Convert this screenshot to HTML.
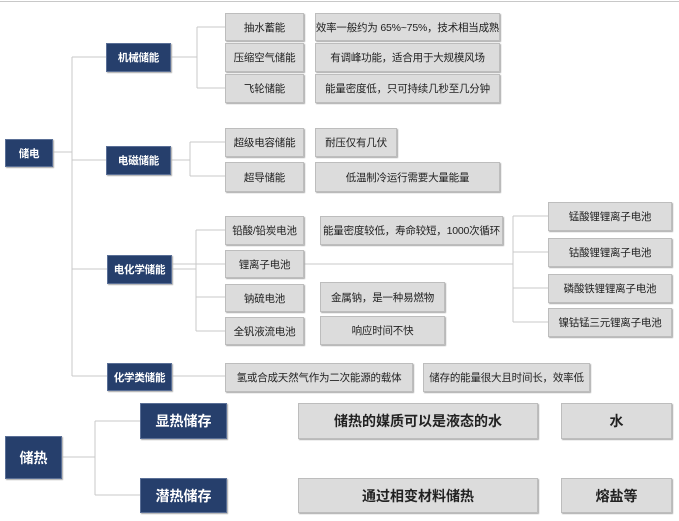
<!DOCTYPE html><html><head><meta charset="utf-8"><style>
body{margin:0;width:679px;height:521px;background:#fff;position:relative;overflow:hidden;font-family:"Liberation Sans","Noto Sans CJK SC",sans-serif}
.b{position:absolute;display:flex;align-items:center;justify-content:center;box-sizing:border-box;font-size:10.5px;color:#222;background:#dcdcdc;border:1px solid #bdbdbd;box-shadow:1px 1px 1px #aaa;white-space:nowrap;letter-spacing:-0.2px}
.n{background:#263f6c;color:#fff;border:1px solid #5a6f96;font-weight:bold}
.L{font-size:14px;font-weight:bold;letter-spacing:0}
svg{position:absolute;left:0;top:0}
</style></head><body>
<svg width="679" height="521"><g stroke="#c8c8c8" stroke-width="1" fill="none">
<line x1="0" y1="1.5" x2="679" y2="1.5"/>
<path d="M53 152H72M72 57V376M72 57H106M72 160H106M72 269H107M72 376H107"/>
<path d="M171 57H197M197 27V88M197 27H225M197 88H225"/>
<path d="M171 160H190M190 142V176M190 142H225M190 176H225"/>
<path d="M172 269H196M196 230V331M196 230H225M196 331H225M196 297H225M172 264H225"/>
<path d="M304 264H513M513 216V322M513 216H548M513 252H548M513 288H548M513 322H548"/>
<path d="M172 376H225"/>
<path d="M62 457H95M95 421V495M95 421H140M95 495H140"/>
</g></svg>
<div class="b n" style="left:5px;top:139px;width:48px;height:28px">储电</div>
<div class="b n" style="left:106px;top:43px;width:65px;height:29px">机械储能</div>
<div class="b n" style="left:106px;top:146px;width:65px;height:29px">电磁储能</div>
<div class="b n" style="left:107px;top:255px;width:65px;height:29px">电化学储能</div>
<div class="b n" style="left:107px;top:363px;width:65px;height:28px">化学类储能</div>
<div class="b" style="left:225px;top:13px;width:79px;height:28px">抽水蓄能</div>
<div class="b" style="left:225px;top:43px;width:79px;height:29px">压缩空气储能</div>
<div class="b" style="left:225px;top:74px;width:79px;height:29px">飞轮储能</div>
<div class="b" style="left:225px;top:128px;width:79px;height:29px">超级电容储能</div>
<div class="b" style="left:225px;top:162px;width:79px;height:30px">超导储能</div>
<div class="b" style="left:225px;top:216px;width:79px;height:29px">铅酸/铅炭电池</div>
<div class="b" style="left:225px;top:250px;width:79px;height:28px">锂离子电池</div>
<div class="b" style="left:225px;top:284px;width:79px;height:28px">钠硫电池</div>
<div class="b" style="left:225px;top:317px;width:79px;height:28px">全钒液流电池</div>
<div class="b" style="left:315px;top:13px;width:185px;height:28px">效率一般约为 65%~75%，技术相当成熟</div>
<div class="b" style="left:315px;top:43px;width:185px;height:29px">有调峰功能，适合用于大规模风场</div>
<div class="b" style="left:315px;top:74px;width:185px;height:29px">能量密度低，只可持续几秒至几分钟</div>
<div class="b" style="left:315px;top:128px;width:82px;height:29px">耐压仅有几伏</div>
<div class="b" style="left:315px;top:162px;width:185px;height:30px">低温制冷运行需要大量能量</div>
<div class="b" style="left:320px;top:216px;width:183px;height:29px">能量密度较低，寿命较短，1000次循环</div>
<div class="b" style="left:320px;top:282px;width:125px;height:30px">金属钠，是一种易燃物</div>
<div class="b" style="left:320px;top:316px;width:125px;height:29px">响应时间不快</div>
<div class="b" style="left:548px;top:202px;width:124px;height:29px">锰酸锂锂离子电池</div>
<div class="b" style="left:548px;top:238px;width:124px;height:29px">钴酸锂锂离子电池</div>
<div class="b" style="left:548px;top:274px;width:124px;height:29px">磷酸铁锂锂离子电池</div>
<div class="b" style="left:548px;top:308px;width:124px;height:29px">镍钴锰三元锂离子电池</div>
<div class="b" style="left:225px;top:363px;width:188px;height:29px">氢或合成天然气作为二次能源的载体</div>
<div class="b" style="left:423px;top:363px;width:167px;height:29px">储存的能量很大且时间长，效率低</div>
<div class="b n L" style="left:5px;top:436px;width:57px;height:43px">储热</div>
<div class="b n L" style="left:140px;top:403px;width:87px;height:36px">显热储存</div>
<div class="b n L" style="left:140px;top:478px;width:87px;height:35px">潜热储存</div>
<div class="b L" style="left:298px;top:403px;width:240px;height:36px">储热的媒质可以是液态的水</div>
<div class="b L" style="left:561px;top:403px;width:111px;height:36px">水</div>
<div class="b L" style="left:298px;top:478px;width:240px;height:35px">通过相变材料储热</div>
<div class="b L" style="left:561px;top:478px;width:111px;height:35px">熔盐等</div>
</body></html>
